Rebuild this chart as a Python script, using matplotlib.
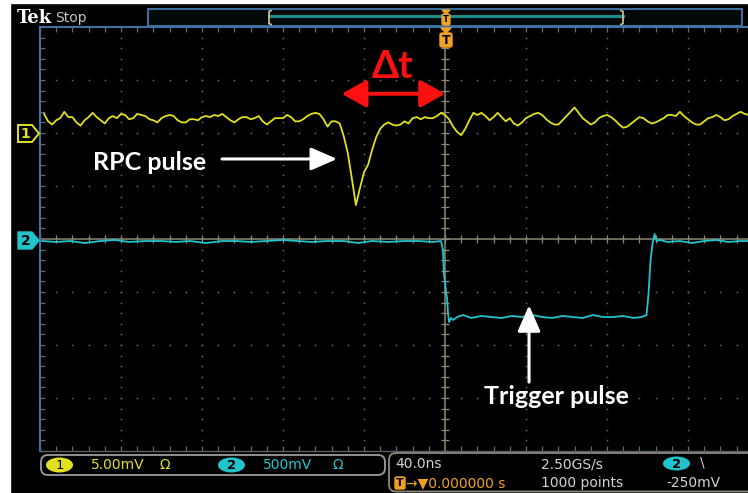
import numpy as np
import matplotlib
matplotlib.use("Agg")
import matplotlib.pyplot as plt
from matplotlib.patches import Polygon, Rectangle, FancyBboxPatch, Ellipse, FancyArrowPatch

# ---------------- data ----------------
# channel 1 (RPC signal), sampled every 2 ns, values in mV
ch1_time_ns = np.arange(-198, 151, 2)
ch1_mv = [
    1.8, 1.1, 0.8, 1.2, 1.4, 2.0, 1.5, 1.5, 1.0, 0.7,
    1.2, 1.5, 1.9, 1.5, 1.2, 0.9, 1.4, 1.6, 1.4, 1.8,
    1.7, 1.3, 1.4, 1.8, 1.7, 1.6, 1.3, 1.2, 1.0, 1.4,
    1.6, 1.7, 1.6, 1.2, 1.0, 1.0, 1.3, 1.3, 1.2, 1.5,
    1.6, 1.5, 1.7, 1.6, 1.8, 1.5, 1.2, 1.0, 1.3, 1.5,
    1.5, 1.3, 1.4, 1.6, 1.1, 0.8, 1.1, 1.4, 1.4, 1.4,
    1.7, 1.5, 1.1, 1.1, 1.3, 1.6, 1.8, 1.9, 1.8, 1.3,
    0.6, 1.1, 1.1, 0.9, -0.3, -1.9, -4.3, -6.8, -5.2, -3.7,
    -3.0, -1.6, -0.4, 0.4, 0.8, 1.0, 0.8, 0.7, 0.8, 1.1,
    0.9, 1.4, 1.5, 1.3, 1.5, 1.4, 1.4, 1.6, 1.9, 1.7,
    1.3, 0.6, 0.1, -0.2, 0.4, 1.2, 1.9, 1.7, 1.9, 1.6,
    1.2, 1.5, 1.9, 1.5, 1.1, 1.4, 0.9, 0.7, 1.0, 1.4,
    1.6, 1.8, 1.9, 1.7, 1.3, 1.0, 0.8, 0.8, 1.2, 1.6,
    2.0, 2.4, 1.9, 1.4, 1.1, 0.8, 1.0, 1.4, 1.6, 1.7,
    1.5, 1.2, 0.8, 0.5, 0.6, 0.9, 1.2, 1.5, 1.4, 1.1,
    0.9, 1.0, 1.2, 1.4, 1.7, 1.7, 1.6, 2.0, 1.6, 1.3,
    1.0, 0.8, 0.8, 1.1, 1.4, 1.5, 1.7, 1.5, 1.2, 1.3,
    1.6, 1.8, 2.0, 1.8, 1.7,
]

# channel 2 (trigger signal), values in mV
ch2_time_ns = [
    -199, -192, -185, -178, -170, -163, -156, -148, -140, -133,
    -126, -118, -110, -103, -96, -88, -80, -73, -66, -58,
    -50, -43, -36, -28, -20, -13, -6,
    -2.0, -1.0, -0.5, 0.0, 0.5, 1.0, 1.5, 2.0, 3.0, 4.0,
    6, 9, 13, 18, 23, 28, 33, 38, 43, 48, 53, 58, 63, 68, 73, 78, 83, 88, 93, 97,
    99.5, 100.5, 101.5, 102.5, 103.5, 104.5,
    106, 110, 116, 122, 128, 134, 140, 146, 151,
]
ch2_mv = [
    -19, -28, -19, -38, -19, -9, -28, -19, -19, -28,
    -19, -38, -19, -19, -28, -19, -9, -19, -28, -19,
    -19, -38, -19, -28, -19, -19, -28,
    -19, -104, -340, -400, -500, -560, -700, -783, -745, -764,
    -736, -717, -745, -726, -736, -745, -726, -736, -717, -736,
    -745, -726, -736, -745, -717, -736, -736, -726, -745, -736,
    -717, -520, -200, -40, 47, -19,
    -9, -28, -19, -38, -19, -9, -28, -19, -19,
]

# scope settings
time_per_div_ns = 40.0
ch1_mv_per_div = 5.0
ch1_position_div = 2.0
ch2_mv_per_div = 500.0
ch2_position_div = 0.0

label_ch1_scale = "5.00mV"
label_ch2_scale = "500mV"
label_timebase = "40.0ns"
label_rate = "2.50GS/s"
label_points = "1000 points"
label_trig_level = "-250mV"
label_trig_pos = "\u2192\u25bc0.000000 s"

annot_dt = "\u0394t"
annot_rpc = "RPC pulse"
annot_trig = "Trigger pulse"
dt_start_ns = -51.0          # onset of RPC pulse (arrow start)
dt_end_ns = 0.0              # trigger instant

# ---------------- style ----------------
YEL = '#e0e01e'
CYA = '#22c4cc'
ORA = '#f0a024'
BLUE = '#3f72a4'
GRID = '#6a6a6a'
CENTER = '#8e8a78'
TXT = '#d2d2d2'
ANN_FONT = ['Lato', 'DejaVu Sans']
UI_FONT = ['DejaVu Sans']

W, H = 748, 493
fig = plt.figure(figsize=(W / 100, H / 100), dpi=100, facecolor='black')

# main graticule axes (10 x 8 divisions; right part is cropped by the screenshot)
ax = fig.add_axes([40 / W, (H - 451) / H, 810 / W, 424 / H], zorder=1)
ax.set_xlim(-5 * time_per_div_ns, 5 * time_per_div_ns)
ax.set_ylim(-4, 4)
ax.axis('off')

xmaj = np.arange(-5, 6) * time_per_div_ns
xmin = np.arange(-25, 26) * time_per_div_ns / 5
ymaj = np.arange(-4, 5)
ymin = np.arange(-20, 21) / 5

dot = dict(ls='none', marker='s', ms=1.1, mew=0, color=GRID)
for xv in xmaj[1:-1]:
    if xv == 0:
        continue
    ax.plot(np.full(len(ymin), xv), ymin, **dot)
for yv in ymaj[1:-1]:
    if yv == 0:
        continue
    ax.plot(xmin, np.full(len(xmin), float(yv)), **dot)

# center cross with ticks
ax.axvline(0, color=CENTER, lw=1.1, zorder=2)
ax.axhline(0, color=CENTER, lw=1.1, zorder=2)
ax.plot(np.zeros(len(ymin)), ymin, ls='none', marker='_', ms=6, mew=0.9, color=CENTER, zorder=2)
ax.plot(xmin, np.zeros(len(xmin)), ls='none', marker='|', ms=6, mew=0.9, color=CENTER, zorder=2)

# edge ticks
ax.plot(np.full(len(ymin), xmaj[0]), ymin, ls='none', marker='_', ms=7, mew=0.9, color=GRID)
ax.plot(xmin, np.full(len(xmin), 4.0), ls='none', marker='|', ms=7, mew=0.9, color=GRID)
ax.plot(xmin, np.full(len(xmin), -4.0), ls='none', marker='|', ms=7, mew=0.9, color=GRID)

# borders
ax.plot([xmaj[0], xmaj[0]], [-4, 4], color=BLUE, lw=1.5, clip_on=False, zorder=3)
ax.plot([xmaj[0], xmaj[-1]], [4, 4], color=BLUE, lw=1.5, clip_on=False, zorder=3)
ax.plot([xmaj[0], xmaj[-1]], [-4, -4], color='#55606a', lw=1.0, clip_on=False, zorder=3)

# traces
ch1_div = np.array(ch1_mv) / ch1_mv_per_div + ch1_position_div
ch2_div = np.array(ch2_mv) / ch2_mv_per_div + ch2_position_div
ax.plot(ch2_time_ns, ch2_div, color=CYA, lw=1.3, zorder=4)
ax.plot(ch1_time_ns, ch1_div, color=YEL, lw=1.3, zorder=4)

# annotations (in data coordinates)
ax.text((dt_start_ns + dt_end_ns) / 2 - 0.3, 3.03, annot_dt, color='#ff1010', fontsize=28,
        fontweight='bold', family=ANN_FONT, ha='center', va='baseline', zorder=6)
ax.add_patch(FancyArrowPatch((dt_start_ns, 2.74), (dt_end_ns, 2.74),
                             arrowstyle='<|-|>,head_length=0.75,head_width=0.42',
                             mutation_scale=20, color='#ff1010', lw=2.8, shrinkA=0, shrinkB=0, zorder=6))
ax.text(-145.9, 1.30, annot_rpc, color='white', fontsize=18, fontweight='bold',
        family=ANN_FONT, ha='center', va='baseline', zorder=6)
ax.add_patch(FancyArrowPatch((-110.1, 1.51), (-53.3, 1.51),
                             arrowstyle='-|>,head_length=0.8,head_width=0.35',
                             mutation_scale=20, color='white', lw=2.2, shrinkA=0, shrinkB=0, zorder=6))
ax.text(54.8, -3.11, annot_trig, color='white', fontsize=18, fontweight='bold',
        family=ANN_FONT, ha='center', va='baseline', zorder=6)
ax.add_patch(FancyArrowPatch((41.5, -2.70), (41.5, -1.25),
                             arrowstyle='-|>,head_length=0.8,head_width=0.35',
                             mutation_scale=20, color='white', lw=2.2, shrinkA=0, shrinkB=0, zorder=6))

# ---------------- overlay for the scope user interface (pixel coords) ----------------
ov = fig.add_axes([0, 0, 1, 1], zorder=5)
ov.set_xlim(0, W)
ov.set_ylim(H, 0)
ov.axis('off')
ov.patch.set_alpha(0)

ov.add_patch(Rectangle((0, 0), 10, H, color='white', zorder=1))
ov.add_patch(Rectangle((0, 0), W, 3, color='white', zorder=1))

# header
ov.text(17, 23, 'Tek', color='white', fontsize=13, fontweight='bold', family=['DejaVu Serif'],
        ha='left', va='baseline')
ov.text(55, 22, 'Stop', color='#c4c4c4', fontsize=10, family=UI_FONT, ha='left', va='baseline')

# record view bar
ov.add_patch(Rectangle((148, 9), 594, 17, fc='#030909', ec=BLUE, lw=1.4, zorder=1))
ov.plot([269, 623], [16, 16], color='#1b8d8d', lw=2.2, zorder=2)
for bx, d in ((269, 1), (623, -1)):
    ov.plot([bx + 2 * d, bx, bx, bx + 2 * d], [10.5, 11.5, 23.5, 24.5], color='#cbbb92', lw=1.3, zorder=3)

# trigger position markers
ov.add_patch(Polygon([[442, 10], [450, 10], [446, 14]], closed=True, color=ORA, zorder=4))
ov.add_patch(FancyBboxPatch((442, 14), 8, 11, boxstyle='round,pad=0,rounding_size=2', fc=ORA, ec=ORA, zorder=4))
ov.text(446, 20, 'T', color='black', fontsize=6, fontweight='bold', family=UI_FONT, ha='center', va='center', zorder=5)
ov.add_patch(Polygon([[441, 28], [451, 28], [446, 33]], closed=True, color=ORA, zorder=4))
ov.add_patch(FancyBboxPatch((440, 33), 12, 14, boxstyle='round,pad=0,rounding_size=2', fc=ORA, ec=ORA, zorder=4))
ov.text(446, 40.5, 'T', color='black', fontsize=9, fontweight='bold', family=UI_FONT, ha='center', va='center', zorder=5)

# channel markers
ov.add_patch(Polygon([[18, 125], [32, 125], [39, 133.5], [32, 142], [18, 142]], closed=True,
                     fc='black', ec=YEL, lw=1.4, zorder=4))
ov.text(25.5, 134, '1', color=YEL, fontsize=10, fontweight='bold', family=UI_FONT,
        ha='center', va='center', zorder=5)
ov.add_patch(Polygon([[18, 232], [32, 232], [39, 240.5], [32, 249], [18, 249]], closed=True,
                     fc=CYA, ec=CYA, lw=1, zorder=4))
ov.text(25.5, 241, '2', color='black', fontsize=10, fontweight='bold', family=UI_FONT,
        ha='center', va='center', zorder=5)

# bottom status panels
ov.add_patch(FancyBboxPatch((41, 455), 344, 20, boxstyle='round,pad=0,rounding_size=7',
                            fc='black', ec='#9c9c9c', lw=1.3, zorder=2))
ov.add_patch(Ellipse((59.5, 465), 27, 15, fc=YEL, ec='none', zorder=3))
ov.text(59.5, 465.5, '1', color='black', fontsize=9.5, family=UI_FONT, ha='center', va='center', zorder=4)
ov.text(91, 465, label_ch1_scale, color=YEL, fontsize=10, family=UI_FONT, ha='left', va='center', zorder=4)
ov.text(160, 465, '\u03a9', color=YEL, fontsize=10, family=UI_FONT, ha='left', va='center', zorder=4)
ov.add_patch(Ellipse((231.5, 465), 27, 15, fc=CYA, ec='none', zorder=3))
ov.text(231.5, 465.5, '2', color='black', fontsize=9.5, fontweight='bold', family=UI_FONT,
        ha='center', va='center', zorder=4)
ov.text(263, 465, label_ch2_scale, color=CYA, fontsize=10, family=UI_FONT, ha='left', va='center', zorder=4)
ov.text(333, 465, '\u03a9', color=CYA, fontsize=10, family=UI_FONT, ha='left', va='center', zorder=4)

ov.add_patch(FancyBboxPatch((389, 453), 400, 38.5, boxstyle='round,pad=0,rounding_size=7',
                            fc='black', ec='#8e8a7a', lw=1.3, zorder=2))
ov.text(395, 464, label_timebase, color=TXT, fontsize=10, family=UI_FONT, ha='left', va='center', zorder=4)
ov.text(541, 464, label_rate, color=TXT, fontsize=10, family=UI_FONT, ha='left', va='center', zorder=4)
ov.text(541, 483, label_points, color=TXT, fontsize=10, family=UI_FONT, ha='left', va='center', zorder=4)
ov.add_patch(Ellipse((676.5, 463.5), 27, 14, fc=CYA, ec='none', zorder=3))
ov.text(676.5, 464, '2', color='black', fontsize=9.5, fontweight='bold', family=UI_FONT,
        ha='center', va='center', zorder=4)
ov.text(700, 462, '\\', color=TXT, fontsize=10, family=UI_FONT, ha='left', va='center', zorder=4)
ov.text(666, 483, label_trig_level, color=TXT, fontsize=10, family=UI_FONT, ha='left', va='center', zorder=4)
ov.add_patch(FancyBboxPatch((395, 477), 10, 12, boxstyle='round,pad=0,rounding_size=1.5',
                            fc=ORA, ec=ORA, zorder=3))
ov.text(400, 483.5, 'T', color='black', fontsize=8, fontweight='bold', family=UI_FONT,
        ha='center', va='center', zorder=4)
ov.text(406, 483, label_trig_pos, color=ORA, fontsize=10, family=UI_FONT, ha='left', va='center', zorder=4)

fig.savefig('out.png', dpi=100, facecolor='black')
